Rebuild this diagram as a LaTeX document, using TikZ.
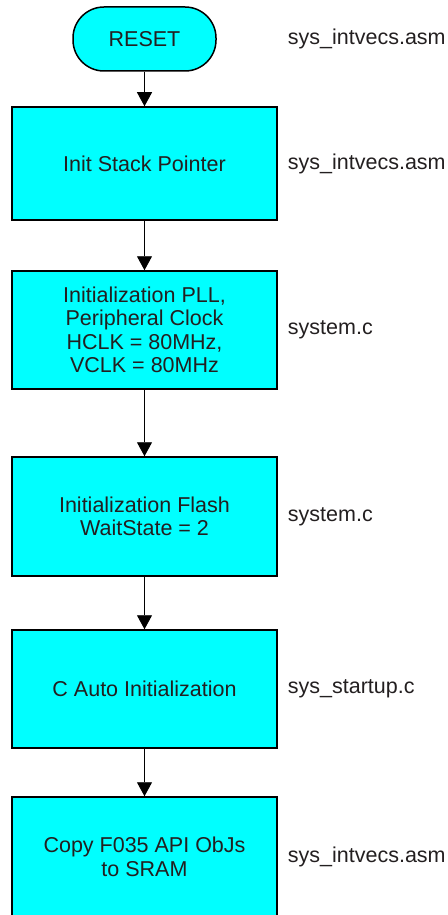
\documentclass[tikz,border=0pt]{standalone}
\usepackage{fontspec}
\setmainfont{Liberation Sans}
\usepackage{tikz}
\usetikzlibrary{positioning, arrows.meta}
\newcommand{\flowfont}{\fontsize{21.5pt}{23.5pt}\selectfont}
\definecolor{boxcyan} {RGB}{0, 255, 255}
\definecolor{textgray}{RGB}{35, 31, 32}
\tikzset{
  % Start terminal
  term/.style={
    rectangle, rounded corners=31pt,
    minimum width=143pt, minimum height=64pt, inner sep=0pt,
    fill=boxcyan, draw=black, line width=1.5pt,
    font=\flowfont, align=center, text=textgray
  },
  % Process box
  block/.style={
    rectangle, minimum width=265pt, inner sep=0pt,
    fill=boxcyan, draw=black, line width=1.5pt,
    font=\flowfont, align=center, text=textgray
  },
  % Source file label
  src/.style={font=\flowfont, text=textgray, inner sep=0pt, anchor=west},
  % Arrow style
  arr/.style={-{Triangle[width=15pt, length=14pt]}, line width=0.9pt, color=black},
}
\begin{document}
\begin{tikzpicture}
  \useasboundingbox (0,0) rectangle (447pt,-915pt);
  \node[term] (n0) at (144.5pt,-39pt) {RESET};
  \node[block, minimum height=113pt, below=34.5pt of n0] (n1) {Init Stack Pointer};
  \node[block, minimum height=118pt, below=49.5pt of n1] (n2) {Initialization PLL,\\Peripheral Clock\\HCLK = 80MHz,\\VCLK = 80MHz};
  \node[block, minimum height=119pt, below=66.5pt of n2] (n3) {Initialization Flash\\WaitState = 2};
  \node[block, minimum height=118pt, below=52.5pt of n3] (n4) {C Auto Initialization};
  \node[block, minimum height=120pt, below=47.5pt of n4] (n5) {Copy F035 API ObJs\\to SRAM};
  % file names
  \node[src, right=10pt of n1] (l1) {sys\_intvecs.asm};
  \node[src] (l0) at (l1.west |- n0) {sys\_intvecs.asm};
  \node[src, right=10pt of n2] (l2) {system.c};
  \node[src, right=10pt of n3] (l3) {system.c};
  \node[src, right=10pt of n4] (l4) {sys\_startup.c};
  \node[src, right=10pt of n5] (l5) {sys\_intvecs.asm};
  \draw[arr] (n0) -- (n1);
  \draw[arr] (n1) -- (n2);
  \draw[arr] (n2) -- (n3);
  \draw[arr] (n3) -- (n4);
  \draw[arr] (n4) -- (n5);
\end{tikzpicture}
\end{document}
